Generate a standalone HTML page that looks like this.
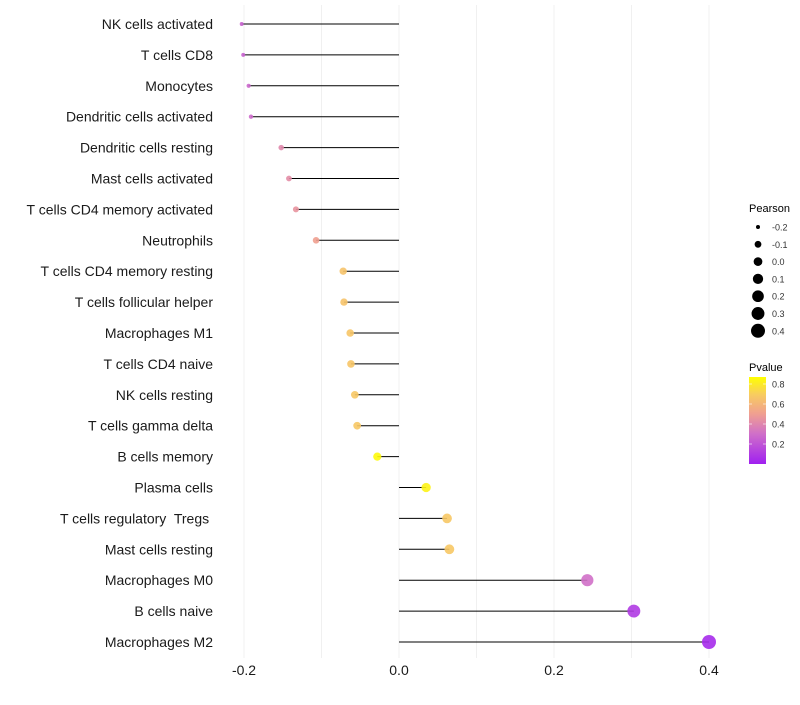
<!DOCTYPE html>
<html><head><meta charset="utf-8"><style>
body{margin:0;background:#fff;font-family:"Liberation Sans",sans-serif;}
</style></head><body>
<svg id="chart" width="800" height="700" xmlns="http://www.w3.org/2000/svg" font-family="Liberation Sans, sans-serif">
<defs><linearGradient id="pgrad" x1="0" y1="1" x2="0" y2="0">
<stop offset="0" stop-color="#a020f0"/><stop offset="0.35" stop-color="#d070c8"/>
<stop offset="0.58" stop-color="#f0a090"/><stop offset="0.8" stop-color="#f8cc60"/><stop offset="1" stop-color="#ffff00"/>
</linearGradient></defs>
<g id="grid"></g>
<g id="marks"></g>
<g id="ylabels"></g>
<g id="xlabels"></g>
<g>
<text x="749" y="212" font-size="11" fill="#000">Pearson</text>
<g id="sizeleg"></g>
</g>
<g>
<text x="749" y="371" font-size="11" fill="#000">Pvalue</text>
<rect x="749" y="377" width="17" height="87" fill="url(#pgrad)"/>
<g id="colleg"></g>
</g>
</svg>
<script>
const categories=["NK cells activated","T cells CD8","Monocytes","Dendritic cells activated","Dendritic cells resting","Mast cells activated","T cells CD4 memory activated","Neutrophils","T cells CD4 memory resting","T cells follicular helper","Macrophages M1","T cells CD4 naive","NK cells resting","T cells gamma delta","B cells memory","Plasma cells","T cells regulatory  Tregs ","Mast cells resting","Macrophages M0","B cells naive","Macrophages M2"];
const pearson=[-0.203,-0.201,-0.194,-0.191,-0.152,-0.142,-0.133,-0.107,-0.072,-0.071,-0.063,-0.062,-0.057,-0.054,-0.028,0.035,0.062,0.065,0.243,0.303,0.4];
const pvalue=[0.25,0.25,0.27,0.28,0.4,0.42,0.45,0.5,0.66,0.66,0.67,0.67,0.68,0.68,0.85,0.83,0.68,0.68,0.3,0.1,0.04];
const xTicks=[-0.2,0,0.2,0.4];
const xTickLabels=["-0.2","0.0","0.2","0.4"];
const sizeLegend=[-0.2,-0.1,0,0.1,0.2,0.3,0.4];
const sizeLegendLabels=["-0.2","-0.1","0.0","0.1","0.2","0.3","0.4"];
const pTicks=[0.2,0.4,0.6,0.8];
const NS="http://www.w3.org/2000/svg";
const x=v=>399+v*775;
const y=i=>24+i*30.9;
const r=v=>Math.sqrt(Math.max(1,4+75*(v+0.2)));
const stops=[[0,[160,32,240]],[0.3,[208,112,200]],[0.5,[240,160,144]],[0.7,[248,204,96]],[0.87,[255,255,0]]];
function col(p){p=Math.max(0,Math.min(0.87,p));for(let k=0;k<stops.length-1;k++){const[a,c1]=stops[k],[b,c2]=stops[k+1];if(p<=b){const t=(p-a)/(b-a);return "rgb("+c1.map((c,j)=>Math.round(c+(c2[j]-c)*t)).join(",")+")";}}return "rgb(255,255,0)";}
function mk(tag,attrs,parent){const e=document.createElementNS(NS,tag);for(const k in attrs)e.setAttribute(k,attrs[k]);parent.appendChild(e);return e;}
const grid=document.getElementById('grid');
for(let v=-0.2;v<=0.401;v+=0.1){const g=mk('line',{x1:x(v),x2:x(v),y1:5,y2:658,stroke:'#f0f0f0','stroke-width':1},grid);

}
const marks=document.getElementById('marks'),yl=document.getElementById('ylabels');
categories.forEach((c,i)=>{
const s=mk('line',{x1:x(0),x2:x(pearson[i]),y1:y(i),y2:y(i),stroke:'#000','stroke-width':1},marks);


const d=mk('circle',{cx:x(pearson[i]),cy:y(i),r:r(pearson[i]),fill:col(pvalue[i]),'fill-opacity':0.9},marks);


const t=mk('text',{x:213,y:y(i)+5,'text-anchor':'end','font-size':14,fill:'#1a1a1a'},yl);t.setAttribute('xml:space','preserve');t.style.whiteSpace='pre';t.textContent=c;


});
const xl=document.getElementById('xlabels');
xTicks.forEach((v,i)=>{const t=mk('text',{x:x(v),y:675,'text-anchor':'middle','font-size':14,fill:'#1a1a1a'},xl);t.textContent=xTickLabels[i];

});
const sl=document.getElementById('sizeleg');
sizeLegend.forEach((v,i)=>{const yy=227+i*17.3;
const c=mk('circle',{cx:758,cy:yy,r:r(v),fill:'#000'},sl);


const t=mk('text',{x:772,y:yy+3.5,'font-size':9,fill:'#333'},sl);t.textContent=sizeLegendLabels[i];

});
const cl=document.getElementById('colleg');
pTicks.forEach(p=>{const yy=464-p*100;
mk('line',{x1:749,x2:752,y1:yy,y2:yy,stroke:'#fff','stroke-width':0.6},cl);
mk('line',{x1:763,x2:766,y1:yy,y2:yy,stroke:'#fff','stroke-width':0.6},cl);
const t=mk('text',{x:772,y:yy+3.5,'font-size':9,fill:'#333'},cl);t.textContent=p.toFixed(1);

});
</script>
</body></html>
